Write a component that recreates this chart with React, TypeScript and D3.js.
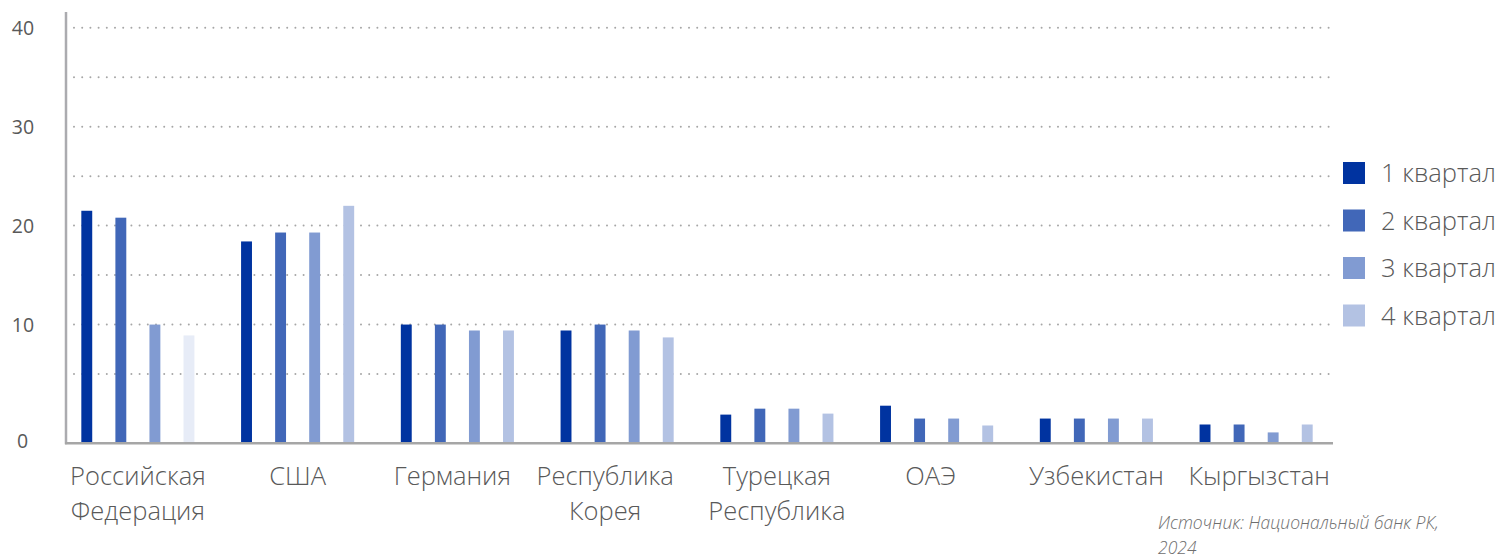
import React from "react";
import * as d3 from "d3";

const categories: string[][] = [
  ["Российская", "Федерация"],
  ["США"],
  ["Германия"],
  ["Республика", "Корея"],
  ["Турецкая", "Республика"],
  ["ОАЭ"],
  ["Узбекистан"],
  ["Кыргызстан"],
];
const seriesNames = ["1 квартал", "2 квартал", "3 квартал", "4 квартал"];
const q1 = [21.5, 18.4, 10.0, 9.4, 0.9, 1.8, 0.5, -0.1];
const q2 = [20.8, 19.3, 10.0, 10.0, 1.5, 0.5, 0.5, -0.1];
const q3 = [10.0, 19.3, 9.4, 9.4, 1.5, 0.5, 0.5, -0.9];
const q4 = [8.9, 22.0, 9.4, 8.7, 1.0, -0.2, 0.5, -0.1];
const series = [q1, q2, q3, q4];
const seriesColors = ["#0033A0", "#4167B8", "#819BD2", "#B3C2E3"];
// highlighted point: Russia, 4th quarter
const pointColorOverrides = [{ cat: 0, s: 3, color: "#E7ECF7" }];
const yTickValues = [10, 20, 30, 40];
const gridValues = [5, 10, 15, 20, 25, 30, 35, 40];
const axisMin = -2;
const axisMax = 40;
const sourceLines = ["Источник: Национальный банк РК,", "2024"];

const W = 1499;
const H = 558;
const plotLeft = 58;
const plotRight = 1336;
const axisX = 66;
const yTop = 27.7;
const yBottom = 443.3;
const labelDx = [0, 0, -5, -12, 0, -6, 0, 3];
const FONT = "'Open Sans', 'Noto Sans', sans-serif";
const TEXT = "#595959";

export default function App() {
  const x0 = d3
    .scaleBand<number>()
    .domain(categories.map((_, i) => i))
    .range([plotLeft, plotRight]);
  const bw = x0.bandwidth();
  const x1 = d3
    .scaleBand<number>()
    .domain(series.map((_, i) => i))
    .range([bw * 0.146, bw * 0.854])
    .paddingInner(0.68)
    .paddingOuter(0);
  const y = d3.scaleLinear().domain([axisMin, axisMax]).range([yBottom, yTop]);

  return (
    <svg width={W} height={H} style={{ position: "absolute", left: 0, top: 0 }}>
      <rect x={0} y={0} width={W} height={H} fill="#fff" />
      {gridValues.map((v) => (
        <line
          key={"g" + v}
          x1={axisX + 8}
          x2={plotRight}
          y1={y(v)}
          y2={y(v)}
          stroke="#A6A6A6"
          strokeWidth={2}
          strokeDasharray="0 8.2"
          strokeLinecap="round"
        />
      ))}
      {categories.map((_, ci) =>
        series.map((vals, si) => {
          const ov = pointColorOverrides.find((o) => o.cat === ci && o.s === si);
          const top = y(vals[ci]);
          return (
            <rect
              key={ci + "-" + si}
              x={(x0(ci) as number) + (x1(si) as number)}
              y={top}
              width={x1.bandwidth()}
              height={yBottom - top}
              fill={ov ? ov.color : seriesColors[si]}
            />
          );
        })
      )}
      <line x1={axisX} x2={axisX} y1={12} y2={yBottom + 1} stroke="#ABABAF" strokeWidth={2.5} />
      <line x1={axisX - 1} x2={plotRight - 3} y1={yBottom} y2={yBottom} stroke="#A6A6A6" strokeWidth={2.5} />
      {yTickValues.map((v) => (
        <text
          key={"t" + v}
          x={23}
          y={y(v) + 7}
          textAnchor="middle"
          fontFamily={FONT}
          fontSize={19.5}
          fill={TEXT}
        >
          {v}
        </text>
      ))}
      <text x={22.5} y={yBottom + 5} textAnchor="middle" fontFamily={FONT} fontSize={19.5} fill={TEXT}>
        0
      </text>
      {categories.map((lines, ci) => (
        <text
          key={"c" + ci}
          textAnchor="middle"
          fontFamily={FONT}
          fontSize={25.5}
          fontWeight={300}
          fill={TEXT}
        >
          {lines.map((ln, li) => (
            <tspan key={li} x={(x0(ci) as number) + bw / 2 + labelDx[ci]} y={485 + li * 35}>
              {ln}
            </tspan>
          ))}
        </text>
      ))}
      {seriesNames.map((name, si) => (
        <g key={"l" + si} transform={`translate(1343, ${162 + si * 47.5})`}>
          <rect x={0} y={0} width={22} height={22} fill={seriesColors[si]} />
          <text x={38} y={20} fontFamily={FONT} fontSize={25.5} fontWeight={300} fill={TEXT}>
            {name}
          </text>
        </g>
      ))}
      {sourceLines.map((ln, i) => (
        <text
          key={"s" + i}
          x={1158}
          y={529 + i * 25}
          fontFamily={FONT}
          fontStyle="italic"
          fontSize={17.5}
          fontWeight={300}
          fill="#6E6E6E"
        >
          {ln}
        </text>
      ))}
    </svg>
  );
}
